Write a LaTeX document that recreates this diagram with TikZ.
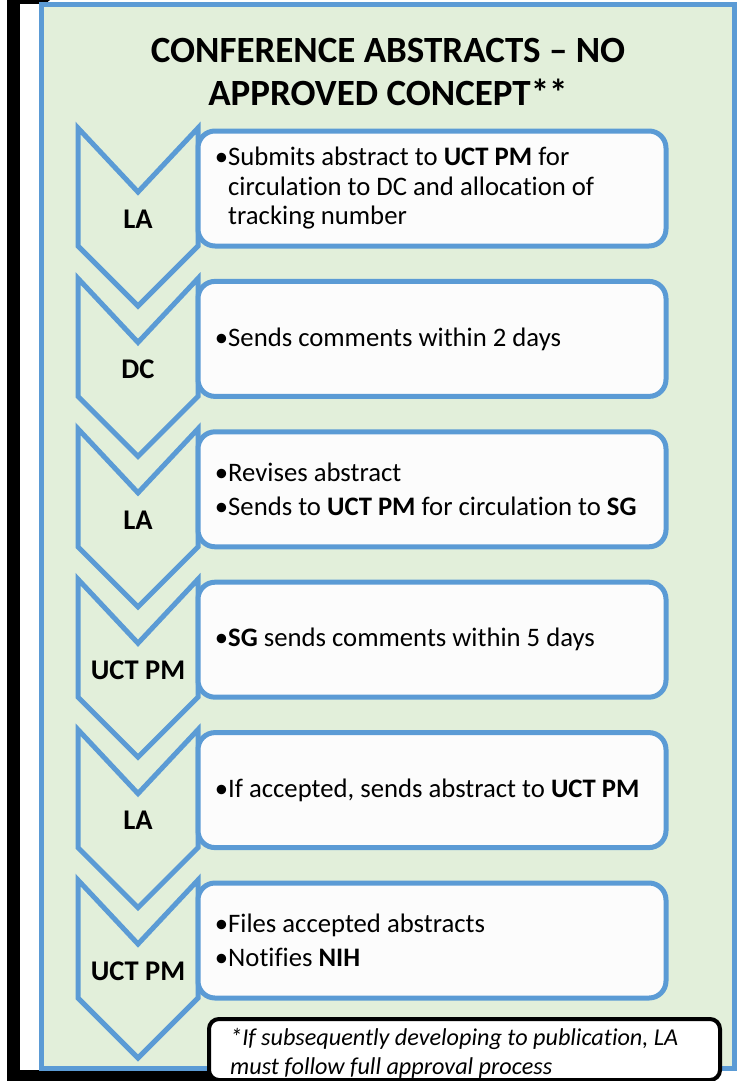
\documentclass[tikz,border=0pt]{standalone}
\usepackage{fontspec}
\setmainfont[Ligatures=NoCommon]{Carlito}
\definecolor{bblue}{HTML}{5B9BD5}
\definecolor{bgreen}{HTML}{E2EFDA}
\definecolor{boxwhite}{HTML}{FCFCFC}
\tikzset{
  chev/.style={draw=bblue, line width=5pt, line join=miter},
  tbox/.style={draw=bblue, line width=5pt, fill=boxwhite, rounded corners=17pt},
  lbl/.style={font=\bfseries\fontsize{28.5}{30}\selectfont, inner sep=0pt},
  btext/.style={font=\fontsize{26.7}{29.5}\selectfont, align=left, anchor=west, inner sep=0pt},
}
\newcommand{\bul}{\llap{•}}
\begin{document}
\begin{tikzpicture}[x=1pt,y=-1pt]
\useasboundingbox (0,0) rectangle (743,1081);
% black frame / shadow
\fill[black] (7,0) rectangle (20,1081);
\fill[black] (7,1070) rectangle (640,1081);
\fill[black] (7,0) -- (50,0) -- (45,4) -- (7,4) -- cycle;
% main panel
\draw[draw=bblue, fill=bgreen, line width=5pt] (41.5,4.5) rectangle (734.5,1068);
% title
\node[font=\bfseries\fontsize{37}{43}\selectfont, align=center, inner sep=0pt] (title) at (388,72)
  {CONFERENCE ABSTRACTS – NO\\APPROVED CONCEPT**};
% chevrons and boxes
\foreach \i/\T in {1/128, 2/278.4, 3/428.8, 4/579.2, 5/729.6, 6/880}{
  \draw[chev] (78,\T) -- (138,\T+64) -- (198,\T) -- (198,\T+118) -- (138,\T+178) -- (78,\T+118) -- cycle;
  \draw[tbox] (198,\T+3) rectangle (666,\T+118);
  \coordinate (lab\i) at (138,\T+91);
  \coordinate (txt\i) at (228,\T+60.5);
}
\node[lbl] (l1) at (lab1) {LA};
\node[lbl] (l2) at (lab2) {DC};
\node[lbl] (l3) at (lab3) {LA};
\node[lbl] (l4) at (lab4) {UCT PM};
\node[lbl] (l5) at (lab5) {LA};
\node[lbl] (l6) at (lab6) {UCT PM};
\node[btext] (t1) at (txt1) {\bul Submits abstract to \textbf{UCT PM} for\\circulation to DC and allocation of\\tracking number};
\node[btext] (t2) at (txt2) {\bul Sends comments within 2 days};
\node[btext] (t3) at (txt3) {\bul Revises abstract\\[4.5pt]\bul Sends to \textbf{UCT PM} for circulation to \textbf{SG}};
\node[btext] (t4) at (txt4) {\bul\textbf{SG} sends comments within 5 days};
\node[btext] (t5) at (txt5) {\bul If accepted, sends abstract to \textbf{UCT PM}};
\node[btext] (t6) at (txt6) {\bul Files accepted abstracts\\[4.5pt]\bul Notifies \textbf{NIH}};
% note
\draw[draw=black, line width=4pt, fill=white, rounded corners=10pt] (209,1019) rectangle (720,1080);
\node[font=\itshape\fontsize{24.2}{29}\selectfont, align=left, anchor=west, inner sep=0pt] (note) at (230,1053)
  {*If subsequently developing to publication, LA\\must follow full approval process};
\end{tikzpicture}
\end{document}
